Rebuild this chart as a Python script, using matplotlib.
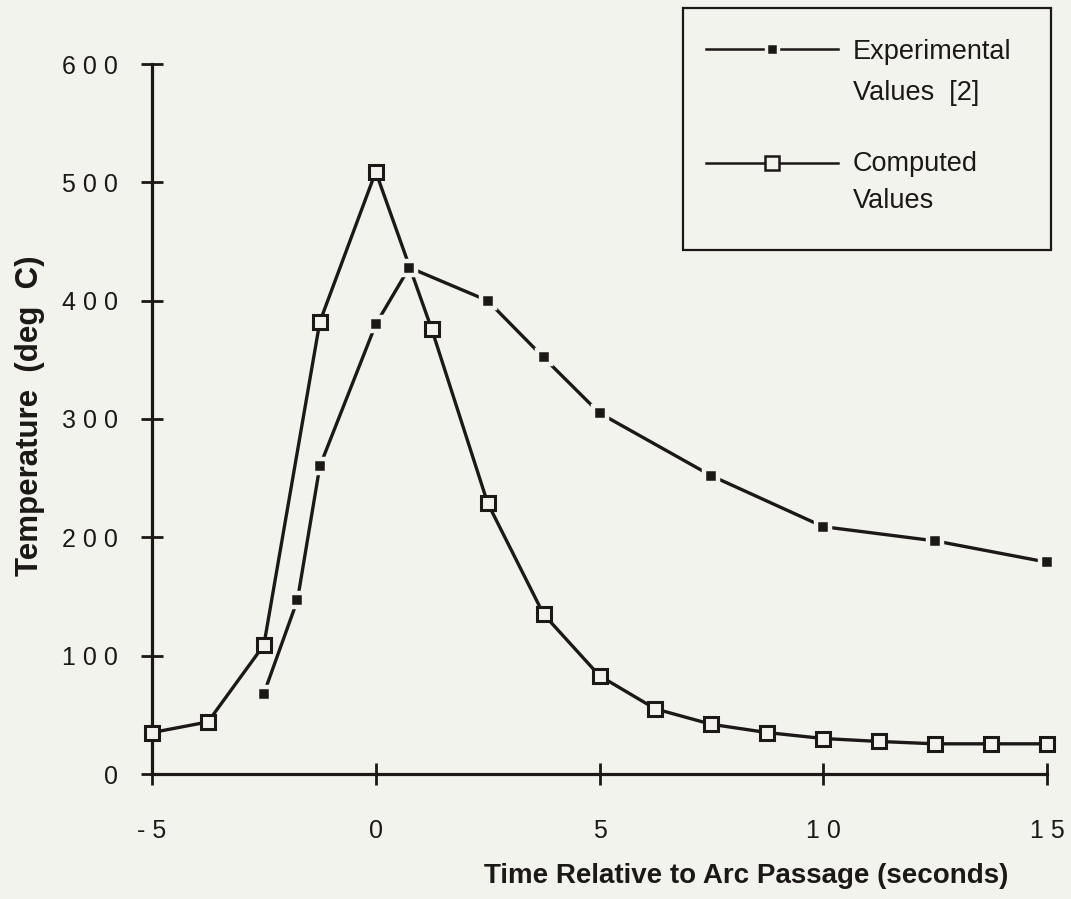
import matplotlib
matplotlib.use("Agg")
import matplotlib.pyplot as plt
from matplotlib.lines import Line2D
from matplotlib.patches import Rectangle

# experimental values [2]
exp_time = [-2.5, -1.75, -1.25, 0, 0.75, 2.5, 3.75, 5, 7.5, 10, 12.5, 15]
exp_temp = [68, 147, 260, 380, 428, 400, 352, 305, 252, 209, 197, 179]

# computed values
comp_time = [-5, -3.75, -2.5, -1.25, 0, 1.25, 2.5, 3.75, 5, 6.25, 7.5,
             8.75, 10, 11.25, 12.5, 13.75, 15]
comp_temp = [35, 44, 109, 382, 509, 376, 229, 135, 83, 55, 42,
             35, 30, 27.5, 25.5, 25.5, 25.5]

x_ticks = [-5, 0, 5, 10, 15]
x_tick_labels = ['- 5', '0', '5', '1 0', '1 5']
y_ticks = [0, 100, 200, 300, 400, 500, 600]
y_tick_labels = ['0', '1 0 0', '2 0 0', '3 0 0', '4 0 0', '5 0 0', '6 0 0']

legend_labels = [['Experimental', 'Values  [2]'], ['Computed', 'Values']]

BG = '#f3f3ee'
INK = '#1c1818'
W, H = 1071, 899

plt.rcParams['font.family'] = ['Liberation Sans', 'DejaVu Sans']


def px(x, y):
    """像素坐标 -> figure 坐标"""
    return x / W, 1 - y / H


fig = plt.figure(figsize=(W / 100, H / 100), dpi=100, facecolor=BG)
ax = fig.add_axes([152 / W, 1 - 774 / H, 895 / W, 710 / H])
ax.set_facecolor(BG)

line_kw = dict(color=INK, lw=2.4, clip_on=False)
ax.plot(comp_time, comp_temp, marker='s', ms=10.5, mfc=BG, mec=INK, mew=2.2,
        zorder=3, **line_kw)
ax.plot(exp_time, exp_temp, marker='s', ms=9.5, mfc=INK, mec=BG, mew=3.2,
        zorder=4, **line_kw)

ax.set_xlim(-5, 15)
ax.set_ylim(0, 600)
ax.set_xticks(x_ticks, x_tick_labels)
ax.set_yticks(y_ticks, y_tick_labels)
for s in ['top', 'right']:
    ax.spines[s].set_visible(False)
for s in ['left', 'bottom']:
    ax.spines[s].set_linewidth(2.3)
    ax.spines[s].set_color(INK)
ax.tick_params(direction='inout', length=16.5, width=2, color=INK,
               labelsize=18, labelcolor=INK)
ax.tick_params(axis='x', pad=24)
ax.tick_params(axis='y', pad=16.5)

ax.set_xlabel('Time Relative to Arc Passage (seconds)', fontsize=20,
              fontweight='bold', color=INK, va='center')
ax.xaxis.set_label_coords((746 - 152) / 895, -(876 - 774) / 710)
ax.set_ylabel('Temperature  (deg  C)', fontsize=22.5, fontweight='bold',
              color=INK, va='center')
ax.yaxis.set_label_coords((30 - 152) / 895, (774 - 416) / 710)

# 图例（手工绘制）
x0, y0 = px(683, 250)
x1, y1 = px(1051, 8)
fig.add_artist(Rectangle((x0, y0), x1 - x0, y1 - y0, transform=fig.transFigure,
                         facecolor=BG, edgecolor=INK, lw=1.6))
styles = [dict(ms=8.5, mfc=INK, mec=BG, mew=2.5),
          dict(ms=10, mfc=BG, mec=INK, mew=1.8)]
handle_y = [49, 163]
text_y = [[52, 93], [164, 201]]
for style, hy, ty, labels in zip(styles, handle_y, text_y, legend_labels):
    xa, ya = px(706, hy)
    xb, _ = px(838, hy)
    xm, _ = px(772, hy)
    fig.add_artist(Line2D([xa, xb], [ya, ya], transform=fig.transFigure,
                          color=INK, lw=1.8))
    fig.add_artist(Line2D([xm], [ya], transform=fig.transFigure,
                          marker='s', ls='none', **style))
    for yy, lab in zip(ty, labels):
        tx, tyy = px(853, yy)
        fig.text(tx, tyy, lab, fontsize=19.5, color=INK, va='center', ha='left')

fig.savefig('out.png', dpi=100, facecolor=BG)
